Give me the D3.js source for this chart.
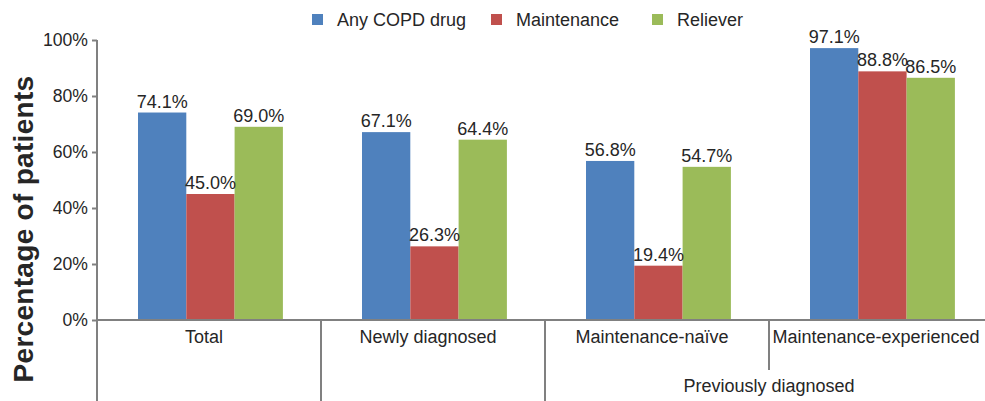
<!DOCTYPE html>
<html>
<head>
<meta charset="utf-8">
<script src="https://cdn.jsdelivr.net/npm/d3@7"></script>
<style>
  body { margin: 0; background: #fff; }
  text { font-family: "Liberation Sans", Arial, sans-serif; fill: #262626; }
</style>
</head>
<body>
<div id="chart"></div>
<script>
// data
let categories = ["Total", "Newly diagnosed", "Maintenance-naïve", "Maintenance-experienced"];
let seriesNames = ["Any COPD drug", "Maintenance", "Reliever"];
let anyDrug = [74.1, 67.1, 56.8, 97.1];
let maintenance = [45.0, 26.3, 19.4, 88.8];
let reliever = [69.0, 64.4, 54.7, 86.5];
let yTicks = [0, 20, 40, 60, 80, 100];
let groupLabel = "Previously diagnosed";

let colors = ["#4F81BD", "#C0504D", "#9BBB59"];
let seriesValues = [anyDrug, maintenance, reliever];

let svgWidth = 985;
let svgHeight = 401;

let margin = { top: 40, left: 97, bottom: 81 };
let plotBottom = svgHeight - margin.bottom;
let step = 224;

let svg = d3.select("#chart")
  .append("svg")
  .attr("width", svgWidth)
  .attr("height", svgHeight);

// scales
let x0 = d3.scaleBand()
  .domain(categories)
  .range([margin.left, margin.left + 4 * step]);

let x1 = d3.scaleBand()
  .domain(seriesNames)
  .range([41, 41 + 3 * 48.3]);

let y = d3.scaleLinear()
  .domain([0, 100])
  .range([plotBottom, margin.top]);

let axisColor = "#808080";

// y axis
let yAxis = svg.append("g")
  .attr("transform", `translate(${margin.left},0)`)
  .call(d3.axisLeft(y).tickValues(yTicks).tickFormat(d => d + "%").tickSize(5).tickSizeOuter(0));
yAxis.select(".domain").remove();
yAxis.selectAll(".tick line").attr("stroke", axisColor).attr("stroke-width", 2);
yAxis.selectAll(".tick text")
  .attr("x", -9)
  .attr("font-size", "17.6px")
  .attr("font-family", "Liberation Sans, Arial, sans-serif")
  .attr("fill", "#262626");

// bars
let rows = categories.map((c, i) => ({ cat: c, vals: seriesNames.map((s, j) => ({ s: s, v: seriesValues[j][i], j: j })) }));

let groups = svg.selectAll("g.cat")
  .data(rows)
  .enter()
  .append("g")
  .attr("class", "cat")
  .attr("transform", d => `translate(${x0(d.cat)},0)`);

groups.selectAll("rect")
  .data(d => d.vals)
  .enter()
  .append("rect")
  .attr("x", d => x1(d.s))
  .attr("y", d => y(d.v))
  .attr("width", x1.bandwidth())
  .attr("height", d => plotBottom - y(d.v))
  .attr("fill", d => colors[d.j]);

groups.selectAll("text.val")
  .data(d => d.vals)
  .enter()
  .append("text")
  .attr("class", "val")
  .attr("x", d => x1(d.s) + x1.bandwidth() / 2)
  .attr("y", d => y(d.v) - 5)
  .attr("text-anchor", "middle")
  .attr("font-size", "18px")
  .text(d => d.v.toFixed(1) + "%");

// axis lines and separators
svg.append("line")
  .attr("x1", margin.left).attr("x2", margin.left)
  .attr("y1", margin.top).attr("y2", svgHeight)
  .attr("stroke", axisColor).attr("stroke-width", 2);

svg.append("line")
  .attr("x1", margin.left).attr("x2", svgWidth)
  .attr("y1", plotBottom).attr("y2", plotBottom)
  .attr("stroke", axisColor).attr("stroke-width", 2);

// separators between categories: first two go to bottom, last one is shorter
categories.slice(1).forEach((c, i) => {
  svg.append("line")
    .attr("x1", x0(c)).attr("x2", x0(c))
    .attr("y1", plotBottom).attr("y2", i < 2 ? svgHeight : plotBottom + 50)
    .attr("stroke", axisColor).attr("stroke-width", 2);
});

// category labels
svg.selectAll("text.cat")
  .data(categories)
  .enter()
  .append("text")
  .attr("class", "cat")
  .attr("x", d => x0(d) + x0.bandwidth() / 2 - 5)
  .attr("y", plotBottom + 23)
  .attr("text-anchor", "middle")
  .attr("font-size", "18px")
  .text(d => d);

svg.append("text")
  .attr("x", x0(categories[3]))
  .attr("y", plotBottom + 72)
  .attr("text-anchor", "middle")
  .attr("font-size", "18px")
  .text(groupLabel);

// y axis title
svg.append("text")
  .attr("transform", `translate(33, 229) rotate(-90)`)
  .attr("text-anchor", "middle")
  .attr("font-size", "28px")
  .attr("font-weight", "bold")
  .attr("letter-spacing", "0.3px")
  .attr("fill", "#1a1a1a")
  .text("Percentage of patients");

// legend
let legendX = [312, 491, 652];
let legend = svg.selectAll("g.legend")
  .data(seriesNames)
  .enter()
  .append("g")
  .attr("class", "legend")
  .attr("transform", (d, i) => `translate(${legendX[i]},14)`);

legend.append("rect")
  .attr("width", 11)
  .attr("height", 11)
  .attr("fill", (d, i) => colors[i]);

legend.append("text")
  .attr("x", 25)
  .attr("y", 11.5)
  .attr("font-size", "18px")
  .text(d => d);
</script>
</body>
</html>
